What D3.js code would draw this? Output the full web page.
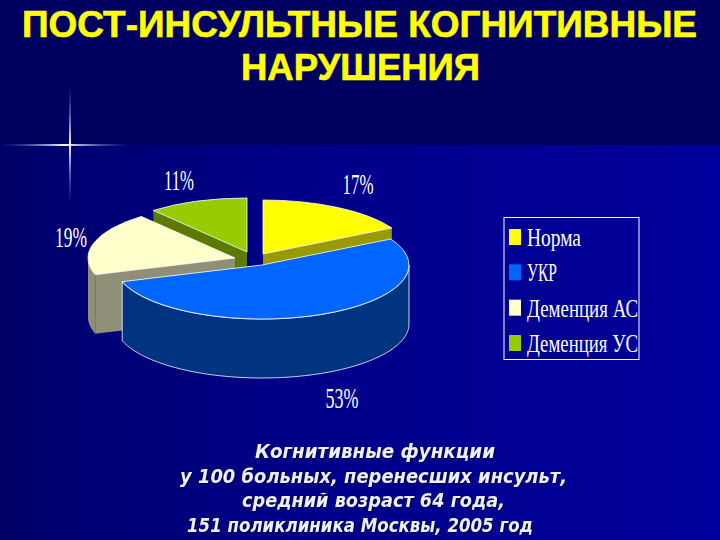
<!DOCTYPE html>
<html>
<head>
<meta charset="utf-8">
<script src="https://cdn.jsdelivr.net/npm/d3@7"></script>
<style>
  html, body { margin: 0; padding: 0; background: #000066; }
  svg { display: block; }
</style>
</head>
<body>
<div id="chart"></div>
<script>
// The data
const categories = ["Норма", "УКР", "Деменция АС", "Деменция УС"];
const values = [17, 53, 19, 11];
const valueLabels = ["17%", "53%", "19%", "11%"];
const topColors = ["#ffff00", "#0066ff", "#ffffcc", "#99cc00"];
const sideColors = ["#999900", "#003380", "#8f8f77", "#5c7a00"];
const titleLines = ["ПОСТ-ИНСУЛЬТНЫЕ КОГНИТИВНЫЕ", "НАРУШЕНИЯ"];
const captionLines = [
  "Когнитивные функции",
  "у 100 больных, перенесших инсульт,",
  "средний возраст 64 года,",
  "151 поликлиника Москвы, 2005 год"
];

const width = 720, height = 540;
const rx = 147, ry = 54, depth = 59;

// each slice is pulled out of the pie a bit, so it has its own centre
const centers = [[263, 254], [262, 265], [235, 258], [247, 252]];
const labelPos = [[358, 194], [342, 408], [71, 247], [179, 190]];
const labelWidth = [31, 33, 32, 30];

const svg = d3.select("#chart").append("svg")
  .attr("width", width)
  .attr("height", height);

// Background
const defs = svg.append("defs");
const flareH = defs.append("linearGradient").attr("id", "flareH");
flareH.append("stop").attr("offset", "0%").attr("stop-color", "#3a6ae0").attr("stop-opacity", 0);
flareH.append("stop").attr("offset", "50%").attr("stop-color", "#ffffff");
flareH.append("stop").attr("offset", "100%").attr("stop-color", "#3a6ae0").attr("stop-opacity", 0);
const flareV = defs.append("linearGradient").attr("id", "flareV").attr("x2", 0).attr("y2", 1);
flareV.append("stop").attr("offset", "0%").attr("stop-color", "#3a6ae0").attr("stop-opacity", 0);
flareV.append("stop").attr("offset", "50%").attr("stop-color", "#ffffff");
flareV.append("stop").attr("offset", "100%").attr("stop-color", "#3a6ae0").attr("stop-opacity", 0);
const lower = defs.append("linearGradient").attr("id", "lower");
lower.append("stop").attr("offset", "0%").attr("stop-color", "#000066");
lower.append("stop").attr("offset", "7%").attr("stop-color", "#000070");
lower.append("stop").attr("offset", "40%").attr("stop-color", "#000088");
lower.append("stop").attr("offset", "100%").attr("stop-color", "#00009c");

svg.append("rect").attr("width", width).attr("height", height).attr("fill", "#000060");
svg.append("rect").attr("x", 0).attr("y", 145).attr("width", width).attr("height", height - 145).attr("fill", "url(#lower)");
svg.append("rect").attr("x", 0).attr("y", 144).attr("width", 130).attr("height", 2).attr("fill", "url(#flareH)");
svg.append("rect").attr("x", 69).attr("y", 85).attr("width", 2).attr("height", 120).attr("fill", "url(#flareV)");

// Title
const titleWidth = [675, 239];
svg.selectAll("text.title")
  .data(titleLines)
  .enter()
  .append("text")
    .attr("class", "title")
    .attr("x", (d, i) => [359.5, 360.5][i])
    .attr("y", (d, i) => 37 + i * 43)
    .attr("text-anchor", "middle")
    .attr("font-family", "Liberation Sans")
    .attr("font-weight", "bold")
    .attr("font-size", 36)
    .attr("fill", "#ffff00")
    .attr("stroke", "#ffff00")
    .attr("stroke-width", 0.6)
    .attr("textLength", (d, i) => titleWidth[i])
    .attr("lengthAdjust", "spacingAndGlyphs")
    .text(d => d);

// Pie
const pie = d3.pie().sort(null).value(d => d);
const arcs = pie(values);
const arc = d3.arc().innerRadius(0).outerRadius(rx);
const line = d3.line();

const px = (i, a) => centers[i][0] + rx * Math.sin(a);
const py = (i, a) => centers[i][1] - ry * Math.cos(a);

// outer wall of a slice, only the part that faces the viewer
function outerWall(i, d) {
  const a0 = Math.max(d.startAngle, Math.PI / 2);
  const a1 = Math.min(d.endAngle, Math.PI * 1.5);
  if (a1 <= a0) return null;
  const angles = d3.range(a0, a1, 0.02).concat([a1]);
  const top = angles.map(a => [px(i, a), py(i, a)]);
  const bottom = angles.map(a => [px(i, a), py(i, a) + depth]).reverse();
  return line(top.concat(bottom)) + "Z";
}

// radial wall at the angle a of slice i
function cutWall(i, a) {
  const c = centers[i];
  return line([c, [px(i, a), py(i, a)], [px(i, a), py(i, a) + depth], [c[0], c[1] + depth]]) + "Z";
}

// back to front
const order = [3, 2, 0, 1];
const walls = { 0: d => d.endAngle, 2: d => d.startAngle, 3: d => d.startAngle };

order.forEach(i => {
  const d = arcs[i];
  const g = svg.append("g");
  if (walls[i]) {
    g.append("path")
      .attr("d", cutWall(i, walls[i](d)))
      .attr("fill", sideColors[i]);
  }
  const wall = outerWall(i, d);
  if (wall) {
    g.append("path")
      .attr("d", wall)
      .attr("fill", sideColors[i])
      .attr("stroke", i === 1 ? "#ffffff" : "none")
      .attr("stroke-width", 0.8);
  }
  g.append("path")
    .attr("d", arc(d))
    .attr("transform", `translate(${centers[i][0]},${centers[i][1]}) scale(1,${ry / rx})`)
    .attr("fill", topColors[i])
    .attr("stroke", "#ffffff")
    .attr("stroke-width", 0.8)
    .attr("vector-effect", "non-scaling-stroke");
});

// Value labels
svg.selectAll("text.value")
  .data(valueLabels)
  .enter()
  .append("text")
    .attr("class", "value")
    .attr("x", (d, i) => labelPos[i][0])
    .attr("y", (d, i) => labelPos[i][1])
    .attr("text-anchor", "middle")
    .attr("font-family", "Liberation Serif")
    .attr("font-size", 29)
    .attr("fill", "#ffffff")
    .attr("textLength", (d, i) => labelWidth[i])
    .attr("lengthAdjust", "spacingAndGlyphs")
    .text(d => d);

// Legend
const legendY = d3.scalePoint().domain(categories).range([237, 343]);
const legendWidth = [54, 30, 111, 111];
const legend = svg.append("g");
legend.append("rect")
  .attr("x", 504).attr("y", 217.5).attr("width", 135).attr("height", 142)
  .attr("fill", "none").attr("stroke", "#ffffff").attr("stroke-width", 1);
legend.selectAll("rect.key")
  .data(categories)
  .enter()
  .append("rect")
    .attr("class", "key")
    .attr("x", 509)
    .attr("y", d => legendY(d) - 8)
    .attr("width", 12)
    .attr("height", 16)
    .attr("fill", (d, i) => topColors[i]);
legend.selectAll("text")
  .data(categories)
  .enter()
  .append("text")
    .attr("x", 527)
    .attr("y", d => legendY(d) + 9)
    .attr("font-family", "Liberation Serif")
    .attr("font-size", 25)
    .attr("fill", "#ffffff")
    .attr("textLength", (d, i) => legendWidth[i])
    .attr("lengthAdjust", "spacingAndGlyphs")
    .text(d => d);

// Caption
const captionX = [375, 373.5, 373.5, 360];
const captionWidth = [240, 387, 263, 346];
svg.selectAll("text.caption")
  .data(captionLines)
  .enter()
  .append("text")
    .attr("class", "caption")
    .attr("x", (d, i) => captionX[i])
    .attr("y", (d, i) => 458 + i * 24.5)
    .attr("text-anchor", "middle")
    .attr("font-family", "DejaVu Sans")
    .attr("font-weight", "bold")
    .attr("font-style", "italic")
    .attr("font-size", 19)
    .attr("fill", "#eef0ff")
    .attr("textLength", (d, i) => captionWidth[i])
    .attr("lengthAdjust", "spacingAndGlyphs")
    .style("filter", "drop-shadow(1px 1px 0 #000044)")
    .text(d => d);
</script>
</body>
</html>
